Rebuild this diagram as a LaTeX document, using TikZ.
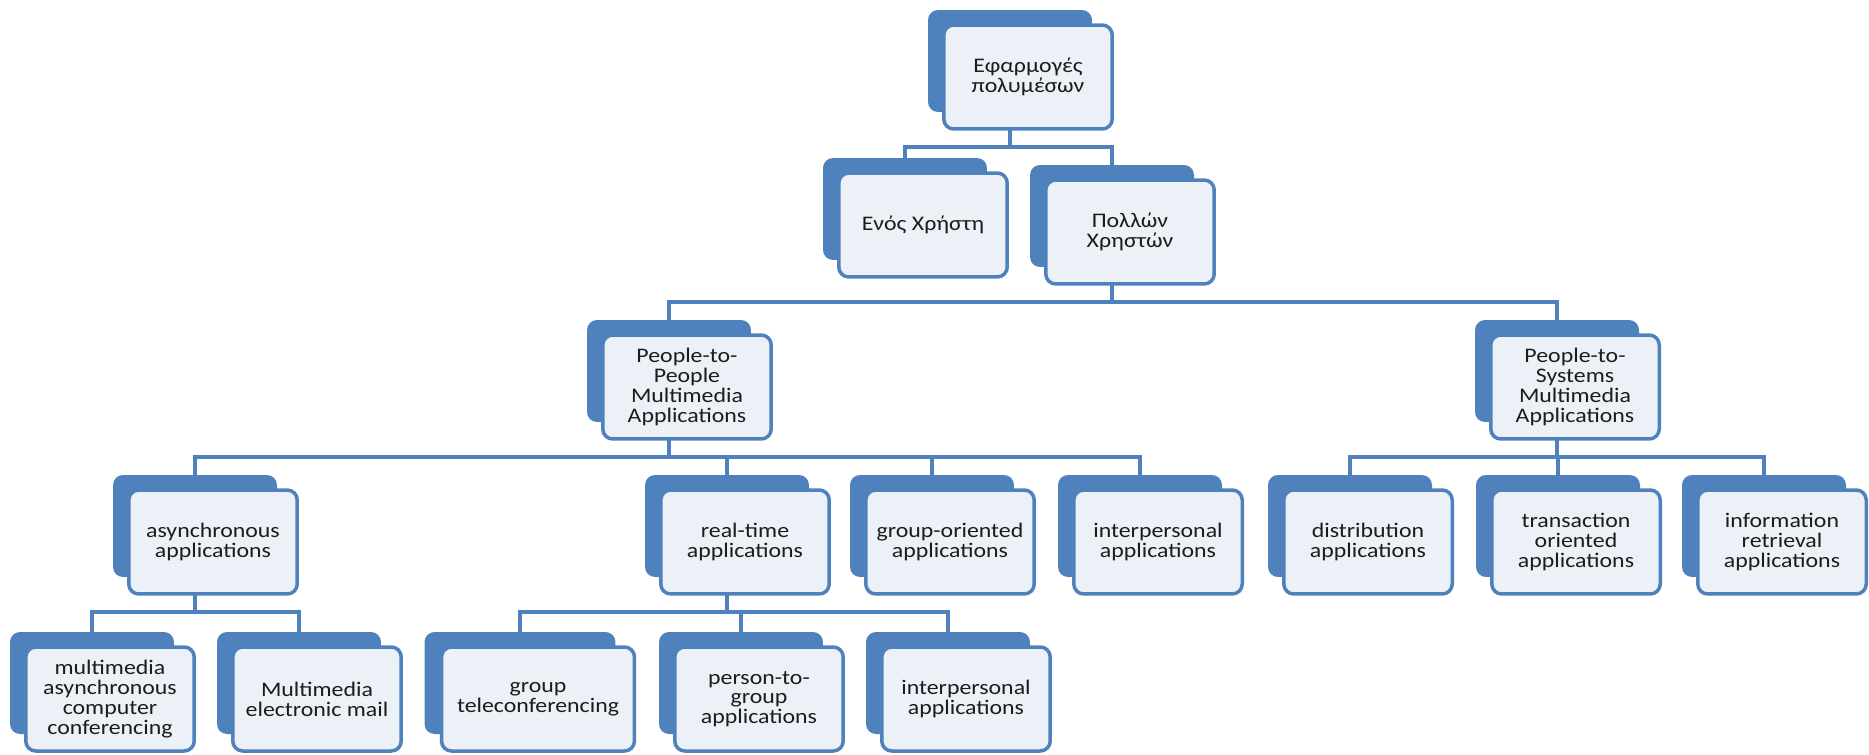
\documentclass[tikz,border=0pt]{standalone}
\usepackage{fontspec}
\setmainfont{Carlito}[FakeStretch=1.15]
\usetikzlibrary{backgrounds}
\definecolor{smartblue}{RGB}{79,129,189}
\definecolor{cardfill}{RGB}{236,240,247}
\definecolor{inktext}{RGB}{28,28,28}
\tikzset{
  every node/.style={
    font=\fontsize{11.8}{11.3}\selectfont
  },
  back/.style={
    shape=rectangle,
    rounded corners=0.2cm,
    fill=smartblue,
    minimum width=3.28cm,
    minimum height=2.04cm,
    inner sep=0pt
  },
  card/.style={
    shape=rectangle,
    rounded corners=0.2cm,
    draw=smartblue,
    line width=0.07cm,
    fill=cardfill,
    text=inktext,
    minimum width=3.37cm,
    minimum height=2.08cm,
    align=center,
    inner sep=0pt
  },
  wide/.style={
    minimum width=#1
  },
  branch/.style={
    draw=smartblue,
    line width=0.08cm,
    to path={
      (\tikztostart.south) -- ++(0,35) -| (\tikztotarget.north)
    }
  }
}

\begin{document}
\begin{tikzpicture}[x=0.02cm,y=-0.02cm]
  \useasboundingbox (0,0) rectangle (1869,754);

  % top
  \node [back] (top) at (1010,61) {};
  \node [card] (top-t) at ([shift={(18,16)}]top.center) {Εφαρμογές\\πολυμέσων};

  % users
  \node [back] (enos) at (905,209) {};
  \node [card] (enos-t) at ([shift={(18,16)}]enos.center) {Ενός Χρήστη};
  \node [back] (pollon) at (1112,216) {};
  \node [card] (pollon-t) at ([shift={(18,16)}]pollon.center) {Πολλών\\Χρηστών};

  % application families
  \node [back] (p2p) at (669,371) {};
  \node [card] (p2p-t) at ([shift={(18,16)}]p2p.center) {People-to-\\People\\Multimedia\\Applications};
  \node [back] (p2s) at (1557,371) {};
  \node [card] (p2s-t) at ([shift={(18,16)}]p2s.center) {People-to-\\Systems\\Multimedia\\Applications};

  % third row
  \node [back] (async) at (195,526) {};
  \node [card] (async-t) at ([shift={(18,16)}]async.center) {asynchronous\\applications};
  \node [back] (realtime) at (727,526) {};
  \node [card] (realtime-t) at ([shift={(18,16)}]realtime.center) {real-time\\applications};
  \node [back] (grouporient) at (932,526) {};
  \node [card] (grouporient-t) at ([shift={(18,16)}]grouporient.center) {group-oriented\\applications};
  \node [back] (interp) at (1140,526) {};
  \node [card] (interp-t) at ([shift={(18,16)}]interp.center) {interpersonal\\applications};
  \node [back] (distrib) at (1350,526) {};
  \node [card] (distrib-t) at ([shift={(18,16)}]distrib.center) {distribution\\applications};
  \node [back] (transact) at (1558,526) {};
  \node [card] (transact-t) at ([shift={(18,16)}]transact.center) {transaction\\oriented\\applications};
  \node [back] (inforet) at (1764,526) {};
  \node [card] (inforet-t) at ([shift={(18,16)}]inforet.center) {information\\retrieval\\applications};

  % fourth row
  \node [back] (mmasync) at (92,683) {};
  \node [card] (mmasync-t) at ([shift={(18,16)}]mmasync.center) {multimedia\\asynchronous\\computer\\conferencing};
  \node [back] (mmmail) at (299,683) {};
  \node [card] (mmmail-t) at ([shift={(18,16)}]mmmail.center) {Multimedia\\electronic mail};
  \node [back, wide=3.82cm] (teleconf) at (520,683) {};
  \node [card, wide=3.86cm] (teleconf-t) at ([shift={(18,16)}]teleconf.center) {group\\teleconferencing};
  \node [back] (person2group) at (741,683) {};
  \node [card] (person2group-t) at ([shift={(18,16)}]person2group.center) {person-to-\\group\\applications};
  \node [back] (interp2) at (948,683) {};
  \node [card] (interp2-t) at ([shift={(18,16)}]interp2.center) {interpersonal\\applications};

  \begin{scope}[on background layer]
    \draw [branch] (top) to (enos) (top) to (pollon);
    \draw [branch] (pollon) to (p2p) (pollon) to (p2s);
    \foreach \kid in {async,realtime,grouporient,interp}
      \draw [branch] (p2p) to (\kid);
    \foreach \kid in {distrib,transact,inforet}
      \draw [branch] (p2s) to (\kid);
    \draw [branch] (async) to (mmasync) (async) to (mmmail);
    \foreach \kid in {teleconf,person2group,interp2}
      \draw [branch] (realtime) to (\kid);
  \end{scope}
\end{tikzpicture}
\end{document}
